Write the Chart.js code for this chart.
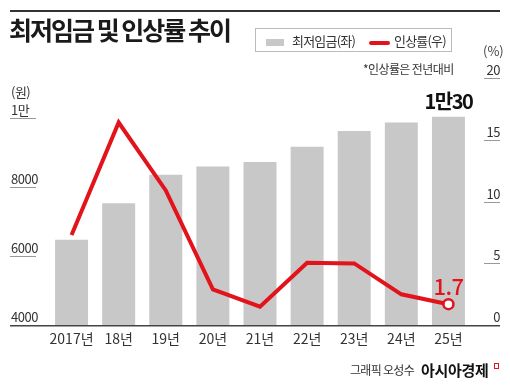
<!DOCTYPE html>
<html>
<head>
<meta charset="utf-8">
<script src="https://cdn.jsdelivr.net/npm/chart.js@4.4.1/dist/chart.umd.min.js"></script>
<style>
  body { margin: 0; background: #fff; font-family: "Noto Sans CJK KR", "Noto Sans", sans-serif; color: #222; }
  #wrap { position: relative; width: 510px; height: 388px; overflow: hidden; }
  #chart1 { position: absolute; left: 0; top: 0; }
  .abs { position: absolute; white-space: nowrap; line-height: 1; }
  #rule { position: absolute; left: 10px; top: 10px; width: 490px; height: 2px; background: #333; }
  #title { left: 9px; top: 17px; font-size: 25px; font-weight: 700; letter-spacing: -2px; color: #1a1a1a; }
  #legend { position: absolute; left: 255px; top: 28px; width: 197px; height: 24px; border: 1px solid #bbb; box-sizing: border-box; }
  .sw { position: absolute; }
  .lg { font-size: 13px; letter-spacing: -0.8px; color: #333; top: 5px; }
  #note { left: 363px; top: 63px; font-size: 12px; letter-spacing: -0.6px; color: #333; }
  #pct { left: 483px; top: 44px; font-size: 13px; color: #444; }
  #credit { left: 350px; top: 364px; font-size: 12px; letter-spacing: -0.7px; color: #333; }
  #brand { left: 421px; top: 362px; font-size: 15px; font-weight: 700; letter-spacing: -0.3px; color: #111; }
  #icon { position: absolute; left: 494px; top: 363px; width: 3px; height: 4px; border: 1.5px solid #e3131b; }
</style>
</head>
<body>
<div id="wrap">
  <canvas id="chart1" width="510" height="388"></canvas>
  <div id="rule"></div>
  <div class="abs" id="title">최저임금 및 인상률 추이</div>
  <div id="legend">
    <div class="sw" style="left:10px;top:10px;width:18px;height:7px;background:#c8c8c8;"></div>
    <div class="abs lg" style="left:36px;">최저임금(좌)</div>
    <div class="sw" style="left:113px;top:12px;width:21px;height:4px;background:#e3131b;border-radius:2px;"></div>
    <div class="abs lg" style="left:138px;">인상률(우)</div>
  </div>
  <div class="abs" id="pct">(%)</div>
  <div class="abs" id="note">*인상률은 전년대비</div>
  <div class="abs" id="credit">그래픽 오성수</div>
  <div class="abs" id="brand">아시아경제</div>
  <div id="icon"></div>
</div>
<script>
// Data
const years = ["2017년", "18년", "19년", "20년", "21년", "22년", "23년", "24년", "25년"];
const minWage = [6470, 7530, 8350, 8590, 8720, 9160, 9620, 9860, 10030];
const raiseRate = [7.3, 16.4, 10.9, 2.9, 1.5, 5.05, 5.0, 2.5, 1.7];
const wageTicks = [4000, 6000, 8000, 10000];
const wageTickLabels = ["4000", "6000", "8000", "1만"];
const rateTicks = [0, 5, 10, 15, 20];
const rateTickLabels = ["0", "5", "10", "15", "20"];

const red = '#e3131b';
const fontFamily = '"Noto Sans CJK KR", "Noto Sans", sans-serif';

// axis labels sit above short underlines, plus the long baseline
const axisPlugin = {
    id: 'axisLabels',
    afterDraw(chart) {
        const c = chart.ctx;
        const yL = chart.scales.y;
        const yR = chart.scales.y1;
        const base = chart.chartArea.bottom;
        c.save();
        c.font = '13px ' + fontFamily;
        c.fillStyle = '#333';
        c.textBaseline = 'alphabetic';

        c.strokeStyle = '#999';
        c.lineWidth = 1;
        wageTicks.forEach((v, i) => {
            const py = Math.round(yL.getPixelForValue(v));
            c.textAlign = 'left';
            c.letterSpacing = '-0.5px';
            c.fillText(wageTickLabels[i], 11, py - 3);
            if (v !== wageTicks[0]) {
                c.beginPath();
                c.moveTo(10, py + 0.5);
                c.lineTo(36, py + 0.5);
                c.stroke();
            }
        });
        c.fillText('(원)', 11, Math.round(yL.getPixelForValue(10000)) - 21);

        rateTicks.forEach((v, i) => {
            const py = Math.round(yR.getPixelForValue(v));
            c.textAlign = 'right';
            c.fillText(rateTickLabels[i], 500, py - 3);
            if (v !== 0) {
                c.beginPath();
                c.moveTo(484, py + 0.5);
                c.lineTo(500, py + 0.5);
                c.stroke();
            }
        });

        // baseline
        c.strokeStyle = '#444';
        c.lineWidth = 1.5;
        c.beginPath();
        c.moveTo(10, base + 0.5);
        c.lineTo(500, base + 0.5);
        c.stroke();

        // value callouts for the last year
        const last = minWage.length - 1;
        const bar = chart.getDatasetMeta(0).data[last];
        const pt = chart.getDatasetMeta(1).data[last];
        c.textAlign = 'center';
        c.fillStyle = '#111';
        c.font = '600 20px ' + fontFamily;
        c.letterSpacing = '-1.5px';
        c.fillText('1만30', bar.x, bar.y - 8);
        c.fillStyle = red;
        c.font = '500 22px ' + fontFamily;
        c.letterSpacing = '-0.5px';
        c.fillText(raiseRate[last].toFixed(1), pt.x, pt.y - 9);
        c.restore();
    }
};

const ctx = document.getElementById('chart1').getContext('2d');
const myChart = new Chart(ctx, {
    data: {
        labels: years,
        datasets: [
            {
                type: 'bar',
                label: '최저임금(좌)',
                data: minWage,
                backgroundColor: '#c8c8c8',
                barPercentage: 0.7,
                categoryPercentage: 1,
                yAxisID: 'y',
                order: 2
            },
            {
                type: 'line',
                label: '인상률(우)',
                data: raiseRate,
                borderColor: red,
                borderWidth: 4,
                tension: 0,
                pointRadius: raiseRate.map((v, i) => i === raiseRate.length - 1 ? 5 : 0),
                pointBackgroundColor: '#fff',
                pointBorderColor: red,
                pointBorderWidth: 2.5,
                yAxisID: 'y1',
                order: 1
            }
        ]
    },
    options: {
        responsive: false,
        animation: false,
        layout: { padding: { left: 48, right: 38, top: 78, bottom: 36 } },
        plugins: {
            legend: { display: false },
            tooltip: { enabled: false }
        },
        scales: {
            x: {
                grid: { display: false, drawTicks: false },
                border: { display: false },
                ticks: {
                    color: '#333',
                    padding: 5,
                    maxRotation: 0,
                    minRotation: 0,
                    autoSkip: false,
                    font: { family: fontFamily, size: 14 }
                }
            },
            y: {
                display: false,
                min: 4000,
                max: 11150
            },
            y1: {
                display: false,
                position: 'right',
                min: 0,
                max: 20
            }
        }
    },
    plugins: [axisPlugin]
});
</script>
</body>
</html>
